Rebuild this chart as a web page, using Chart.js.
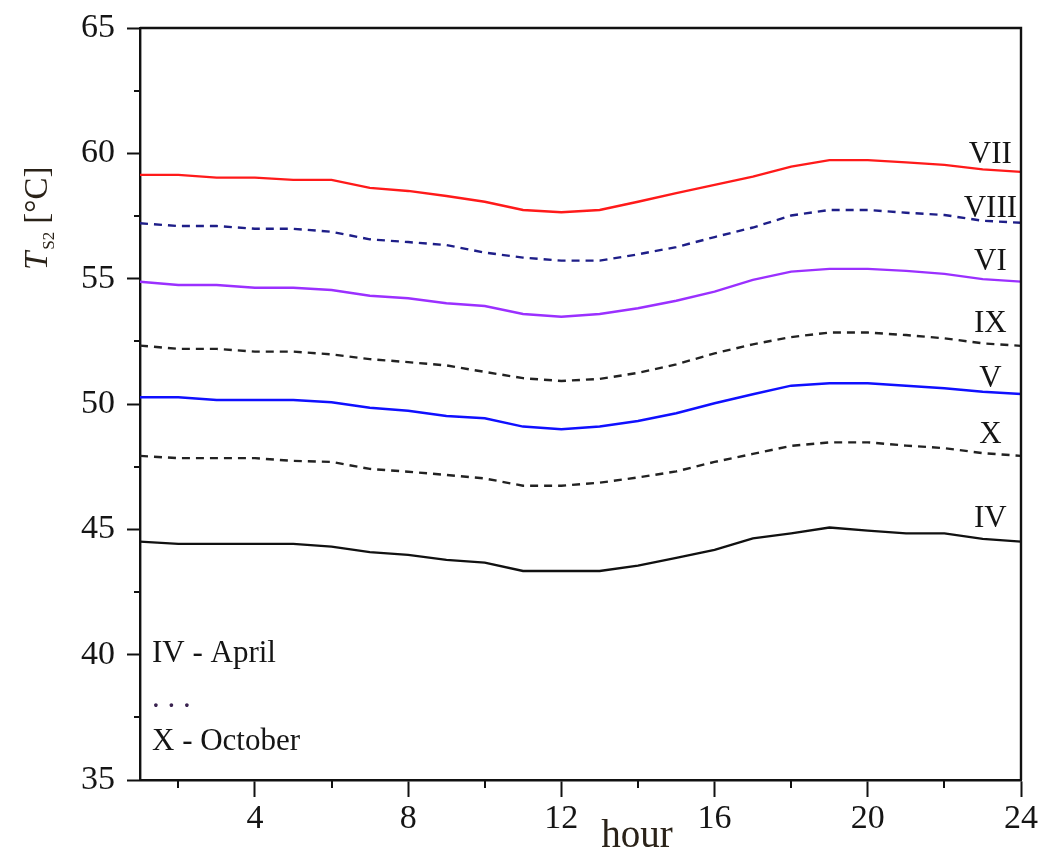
<!DOCTYPE html>
<html>
<head>
<meta charset="utf-8">
<script src="https://cdn.jsdelivr.net/npm/chart.js@4.4.1/dist/chart.umd.min.js"></script>
<style>
  html, body { margin: 0; padding: 0; background: #fff; }
  #wrap { width: 1051px; height: 857px; }
</style>
</head>
<body>
<div id="wrap"><canvas id="grafico1" width="1051" height="857"></canvas></div>
<script>
// ============================== DATA ==============================

const hours = [1, 2, 3, 4, 5, 6, 7, 8, 9, 10, 11, 12, 13, 14, 15, 16, 17, 18, 19, 20, 21, 22, 23, 24];

const julVII = [59.14, 59.14, 59.03, 59.03, 58.94, 58.94, 58.62, 58.50, 58.30, 58.07, 57.74, 57.65, 57.74, 58.07, 58.41, 58.74, 59.07, 59.47, 59.73, 59.73, 59.64, 59.54, 59.36, 59.26];
const augVIII = [57.21, 57.10, 57.10, 56.99, 56.99, 56.87, 56.57, 56.46, 56.34, 56.04, 55.84, 55.72, 55.72, 55.97, 56.26, 56.66, 57.04, 57.52, 57.74, 57.74, 57.63, 57.54, 57.31, 57.23];
const junVI = [54.88, 54.75, 54.75, 54.64, 54.64, 54.55, 54.32, 54.22, 54.02, 53.91, 53.59, 53.48, 53.59, 53.82, 54.12, 54.48, 54.95, 55.28, 55.39, 55.39, 55.31, 55.19, 54.98, 54.88];
const sepIX = [52.33, 52.20, 52.20, 52.09, 52.09, 51.98, 51.79, 51.67, 51.54, 51.28, 51.03, 50.92, 51.00, 51.24, 51.58, 52.02, 52.38, 52.67, 52.85, 52.85, 52.75, 52.62, 52.42, 52.32];
const mayV = [50.27, 50.27, 50.16, 50.16, 50.16, 50.07, 49.85, 49.73, 49.52, 49.43, 49.10, 48.99, 49.10, 49.32, 49.63, 50.03, 50.39, 50.73, 50.83, 50.83, 50.73, 50.63, 50.49, 50.40];
const octX = [47.93, 47.84, 47.84, 47.84, 47.73, 47.69, 47.41, 47.30, 47.17, 47.03, 46.74, 46.74, 46.86, 47.07, 47.31, 47.69, 48.01, 48.33, 48.47, 48.47, 48.34, 48.24, 48.04, 47.93];
const aprIV = [44.51, 44.42, 44.42, 44.42, 44.42, 44.31, 44.09, 43.98, 43.78, 43.67, 43.34, 43.34, 43.34, 43.55, 43.86, 44.18, 44.64, 44.84, 45.07, 44.95, 44.84, 44.84, 44.62, 44.51];

// month names written at the right end of each curve, and the value they sit on
const monthLabels = ["VII", "VIII", "VI", "IX", "V", "X", "IV"];
const monthLabelY = [59.61, 57.46, 55.35, 52.87, 50.68, 48.45, 45.10];
const monthLabelX = 23.2;

const xTicks = [4, 8, 12, 16, 20, 24];
const xMinor = [2, 6, 10, 14, 18, 22];
const yMinor = [37.5, 42.5, 47.5, 52.5, 57.5, 62.5];

const noteLines = ["IV - April", ". . .", "X - October"];

// ============================== CHART ==============================

const FONT = "'Liberation Serif', 'DejaVu Serif', serif";

function pts(vals) {
  return hours.map((h, i) => ({ x: h, y: vals[i] }));
}

function serie(label, vals, color, dashed) {
  return {
    label: label,
    data: pts(vals),
    borderColor: color,
    backgroundColor: color,
    borderWidth: 2.4,
    borderDash: dashed ? [8, 6] : [],
    pointRadius: 0,
    tension: 0,
    fill: false,
  };
}

const data = {
  datasets: [
    serie("VII", julVII, "#ff1a1a", false),
    serie("VIII", augVIII, "#1e1e88", true),
    serie("VI", junVI, "#9b30ff", false),
    serie("IX", sepIX, "#222222", true),
    serie("V", mayV, "#1010ff", false),
    serie("X", octX, "#222222", true),
    serie("IV", aprIV, "#111111", false),
  ],
};

// frame, minor ticks, axis titles and text notes
const extras = {
  id: "extras",
  afterDraw(chart) {
    const ctx = chart.ctx;
    const a = chart.chartArea;
    const xs = chart.scales.x;
    const ys = chart.scales.y;
    ctx.save();
    ctx.strokeStyle = "#111";
    ctx.lineWidth = 2.4;
    ctx.beginPath();
    ctx.moveTo(a.left, a.top);
    ctx.lineTo(a.right, a.top);
    ctx.lineTo(a.right, a.bottom);
    ctx.stroke();

    // minor ticks
    ctx.lineWidth = 2;
    ctx.beginPath();
    xMinor.forEach(v => {
      const px = Math.round(xs.getPixelForValue(v));
      ctx.moveTo(px, a.bottom);
      ctx.lineTo(px, a.bottom + 8);
    });
    yMinor.forEach(v => {
      const py = Math.round(ys.getPixelForValue(v));
      ctx.moveTo(a.left, py);
      ctx.lineTo(a.left - 6, py);
    });
    ctx.stroke();

    // month names near the curves
    ctx.fillStyle = "#151515";
    ctx.font = "31px " + FONT;
    ctx.textAlign = "center";
    ctx.textBaseline = "alphabetic";
    monthLabels.forEach((t, i) => {
      ctx.fillText(t, xs.getPixelForValue(monthLabelX), ys.getPixelForValue(monthLabelY[i]));
    });

    // notes bottom-left
    ctx.textAlign = "left";
    ctx.fillText(noteLines[0], a.left + 12, 662);
    ctx.fillStyle = "#3a2350";
    ctx.fillText(noteLines[1], a.left + 12, 707);
    ctx.fillStyle = "#151515";
    ctx.fillText(noteLines[2], a.left + 12, 750);

    // x title
    ctx.fillStyle = "#2a2218";
    ctx.font = "39px " + FONT;
    ctx.textAlign = "center";
    ctx.fillText("hour", 637, 847);

    // y title: T_S2 [°C]
    ctx.translate(47, 270);
    ctx.rotate(-Math.PI / 2);
    ctx.textAlign = "left";
    ctx.font = "italic 33px " + FONT;
    ctx.fillText("T", 0, 0);
    let w = ctx.measureText("T").width + 2;
    ctx.font = "17px " + FONT;
    ctx.fillText("S2", w, 7);
    w += ctx.measureText("S2").width + 8;
    ctx.font = "33px " + FONT;
    ctx.fillText("[\u00B0C]", w, 0);
    ctx.restore();
  },
};

const config = {
  type: "line",
  data: data,
  options: {
    responsive: false,
    animation: false,
    devicePixelRatio: 1,
    layout: { padding: { top: 28, right: 30, left: 0, bottom: 0 } },
    plugins: {
      legend: { display: false },
      tooltip: { enabled: false },
    },
    scales: {
      x: {
        type: "linear",
        min: 1,
        max: 24,
        afterBuildTicks: (scale) => {
          scale.ticks = xTicks.map(v => ({ value: v }));
        },
        afterFit: (scale) => {
          scale.height = 77;
          scale.paddingLeft = 0;
          scale.paddingRight = 0;
        },
        ticks: {
          autoSkip: false,
          maxRotation: 0,
          padding: 2,
          color: "#151515",
          font: { family: FONT, size: 34 },
        },
        grid: {
          drawOnChartArea: false,
          tickLength: 17,
          tickWidth: 2,
          color: "#111",
        },
        border: { display: true, color: "#111", width: 2.4 },
      },
      y: {
        min: 35,
        max: 65,
        afterFit: (scale) => {
          scale.width = 140;
          scale.paddingTop = 0;
          scale.paddingBottom = 0;
        },
        ticks: {
          stepSize: 5,
          padding: 12,
          color: "#151515",
          font: { family: FONT, size: 34 },
        },
        grid: {
          drawOnChartArea: false,
          tickLength: 13,
          tickWidth: 2,
          color: "#111",
        },
        border: { display: true, color: "#111", width: 2.4 },
      },
    },
  },
  plugins: [extras],
};

const grafico1 = new Chart(document.getElementById("grafico1"), config);
</script>
</body>
</html>
